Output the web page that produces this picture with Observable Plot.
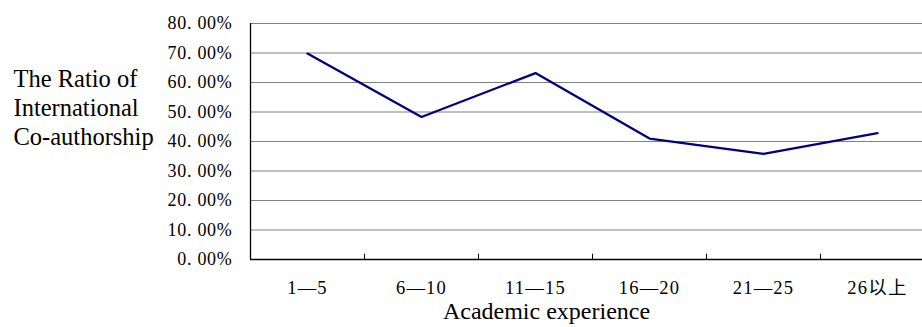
<!DOCTYPE html>
<html>
<head>
<meta charset="utf-8">
<script src="https://cdn.jsdelivr.net/npm/d3@7"></script>
<script src="https://cdn.jsdelivr.net/npm/@observablehq/plot@0.6"></script>
<style>
  html, body { margin: 0; padding: 0; background: #fff; }
  #chart svg { display: block; font-family: "Liberation Serif", "Noto Sans CJK SC", serif; }
  #chart svg g[aria-label="y-axis tick label"] text { letter-spacing: 0.7px; }
  #chart svg g[aria-label="x-axis tick label"] text { letter-spacing: 1.2px; }
</style>
</head>
<body>
<div id="chart"></div>
<script>
const categories = ["1\u20145", "6\u201410", "11\u201415", "16\u201420", "21\u201425", "26以上"];
const ratios = [0.698, 0.483, 0.632, 0.410, 0.358, 0.428];
const yTicks = [0, 0.1, 0.2, 0.3, 0.4, 0.5, 0.6, 0.7, 0.8];
const yTitle = "The Ratio of\nInternational\nCo-authorship";
const xTitle = "Academic experience";

const data = categories.map((c, i) => ({cat: c, value: ratios[i]}));
const half = 57;

const chart = Plot.plot({
  width: 922,
  height: 327,
  marginLeft: 250,
  marginRight: 0,
  marginTop: 23,
  marginBottom: 68,
  style: {fontFamily: "'Liberation Serif', 'Noto Sans CJK SC', serif", background: "#fff", color: "#000"},
  x: {type: "band", domain: categories, range: [250, 934], padding: 0},
  y: {domain: [0, 0.8], range: [259, 23]},
  marks: [
    Plot.ruleY(yTicks.filter(d => d > 0), {stroke: "#808080", strokeWidth: 1, strokeOpacity: 1}),
    Plot.ruleY([0], {stroke: "#000", strokeWidth: 1.3}),
    Plot.ruleX([categories[0]], {dx: -half, y1: 0, y2: 0.8, stroke: "#000", strokeWidth: 1.3}),
    Plot.ruleX(categories, {dx: half, y1: 0, y2: 0.018, stroke: "#000", strokeWidth: 1}),
    Plot.axisY({ticks: yTicks, tickSize: 0, tickPadding: 18, fontSize: 18, label: null,
      tickFormat: d => d3.format(".2f")(d * 100).replace(".", ". ") + "%"}),
    Plot.axisX({tickSize: 0, tickPadding: 21, fontSize: 18.5, label: null}),
    Plot.line(data, {x: "cat", y: "value", stroke: "#000080", strokeWidth: 2.3, strokeLinejoin: "miter"}),
    Plot.text([yTitle], {frameAnchor: "left", dx: -237, dy: -35, textAnchor: "start", lineAnchor: "middle", lineHeight: 1.2, fontSize: 24.5, fill: "#000"}),
    Plot.text([xTitle], {frameAnchor: "bottom", dx: -40, dy: 52, textAnchor: "middle", lineAnchor: "middle", fontSize: 24, fill: "#000"})
  ]
});
document.getElementById("chart").appendChild(chart);
</script>
</body>
</html>
